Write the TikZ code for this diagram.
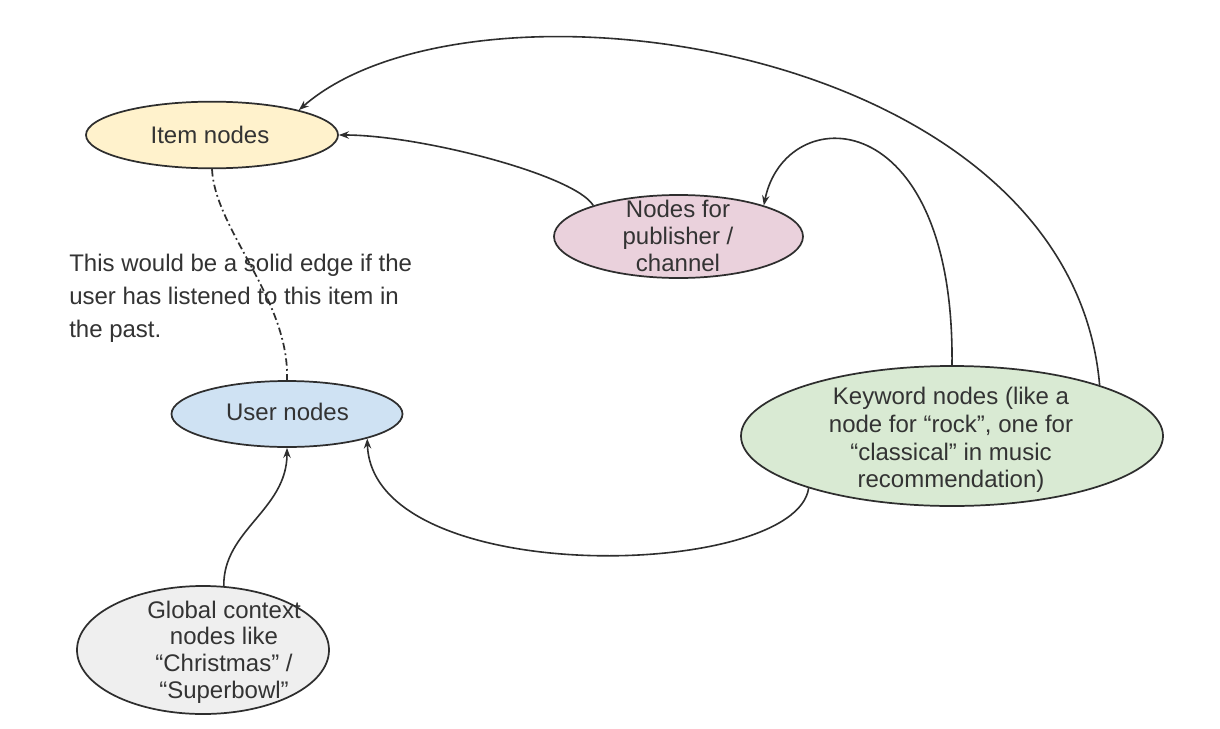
\documentclass[tikz,border=0pt]{standalone}
\usepackage{fontspec}
\setmainfont{Liberation Sans}
\usetikzlibrary{shapes.geometric,arrows.meta}
\definecolor{ink}{HTML}{2E2E2E}
\definecolor{txt}{HTML}{333333}
\definecolor{fitem}{HTML}{FFF2CC}
\definecolor{fpub}{HTML}{EAD1DC}
\definecolor{fuser}{HTML}{CFE2F3}
\definecolor{fkey}{HTML}{D9EAD3}
\definecolor{fglob}{HTML}{EFEFEF}
\begin{document}
\begin{tikzpicture}[x=0.75pt,y=-0.75pt,
  oval/.style={ellipse,draw=ink,line width=1.3pt,inner sep=0pt},
  lbl/.style={inner sep=0pt,text=txt,align=center},
  fs/.style={font=\fontsize{18}{#1}\selectfont},
  link/.style={draw=ink,line width=1.2pt,-{Stealth[length=7.5pt,width=5.5pt]}},
  dashdot/.style={draw=ink,line width=1.3pt,dash pattern=on 5.5pt off 2.5pt on 1.3pt off 2.5pt},
]
\useasboundingbox[fill=white] (0,0) rectangle (1220,728);
% ellipses
\node[oval,fill=fitem,minimum width=189pt,minimum height=50pt] (item) at (212,135) {};
\node[oval,fill=fpub,minimum width=186.75pt,minimum height=62.25pt] (pub) at (678.5,236.5) {};
\node[oval,fill=fuser,minimum width=173.25pt,minimum height=49.5pt] (user) at (287,414) {};
\node[oval,fill=fkey,minimum width=316.5pt,minimum height=105pt] (key) at (952,436) {};
\node[oval,fill=fglob,minimum width=189pt,minimum height=96pt] (glob) at (203,650) {};
% texts
\node[lbl,fs=21.6] (itemt) at (210,134.7) {Item nodes};
\node[lbl,fs=20.4] (pubt) at (678,236) {Nodes for\\publisher /\\channel};
\node[lbl,fs=21.6] (usert) at (287.5,412) {User nodes};
\node[lbl,fs=20.8] (keyt) at (951,440) {Keyword nodes (like a\\node for “rock”, one for\\“classical” in music\\recommendation)};
\node[lbl,fs=20] (globt) at (224,652) {Global context\\nodes like\\“Christmas” /\\“Superbowl”};
\node[lbl,align=left,fs=24.75,anchor=west] (note) at (69,298) {This would be a solid edge if the\\user has listened to this item in\\the past.};
% connectors
\draw[link] (key.19) .. controls (1070,40) and (470,-40) .. (item.16);
\draw[link] (pub.160) .. controls (575,175) and (420,135) .. (item.0);
\draw[link] (key.north) .. controls (955,100) and (785,100) .. (pub.20);
\draw[link] (key.200) .. controls (795,580) and (372,590) .. (user.-17);
\draw[link] (glob.72) .. controls (223,530) and (287,510) .. (user.south);
\draw[dashdot] (item.south) .. controls (215,230) and (290,300) .. (user.north);
\end{tikzpicture}
\end{document}
